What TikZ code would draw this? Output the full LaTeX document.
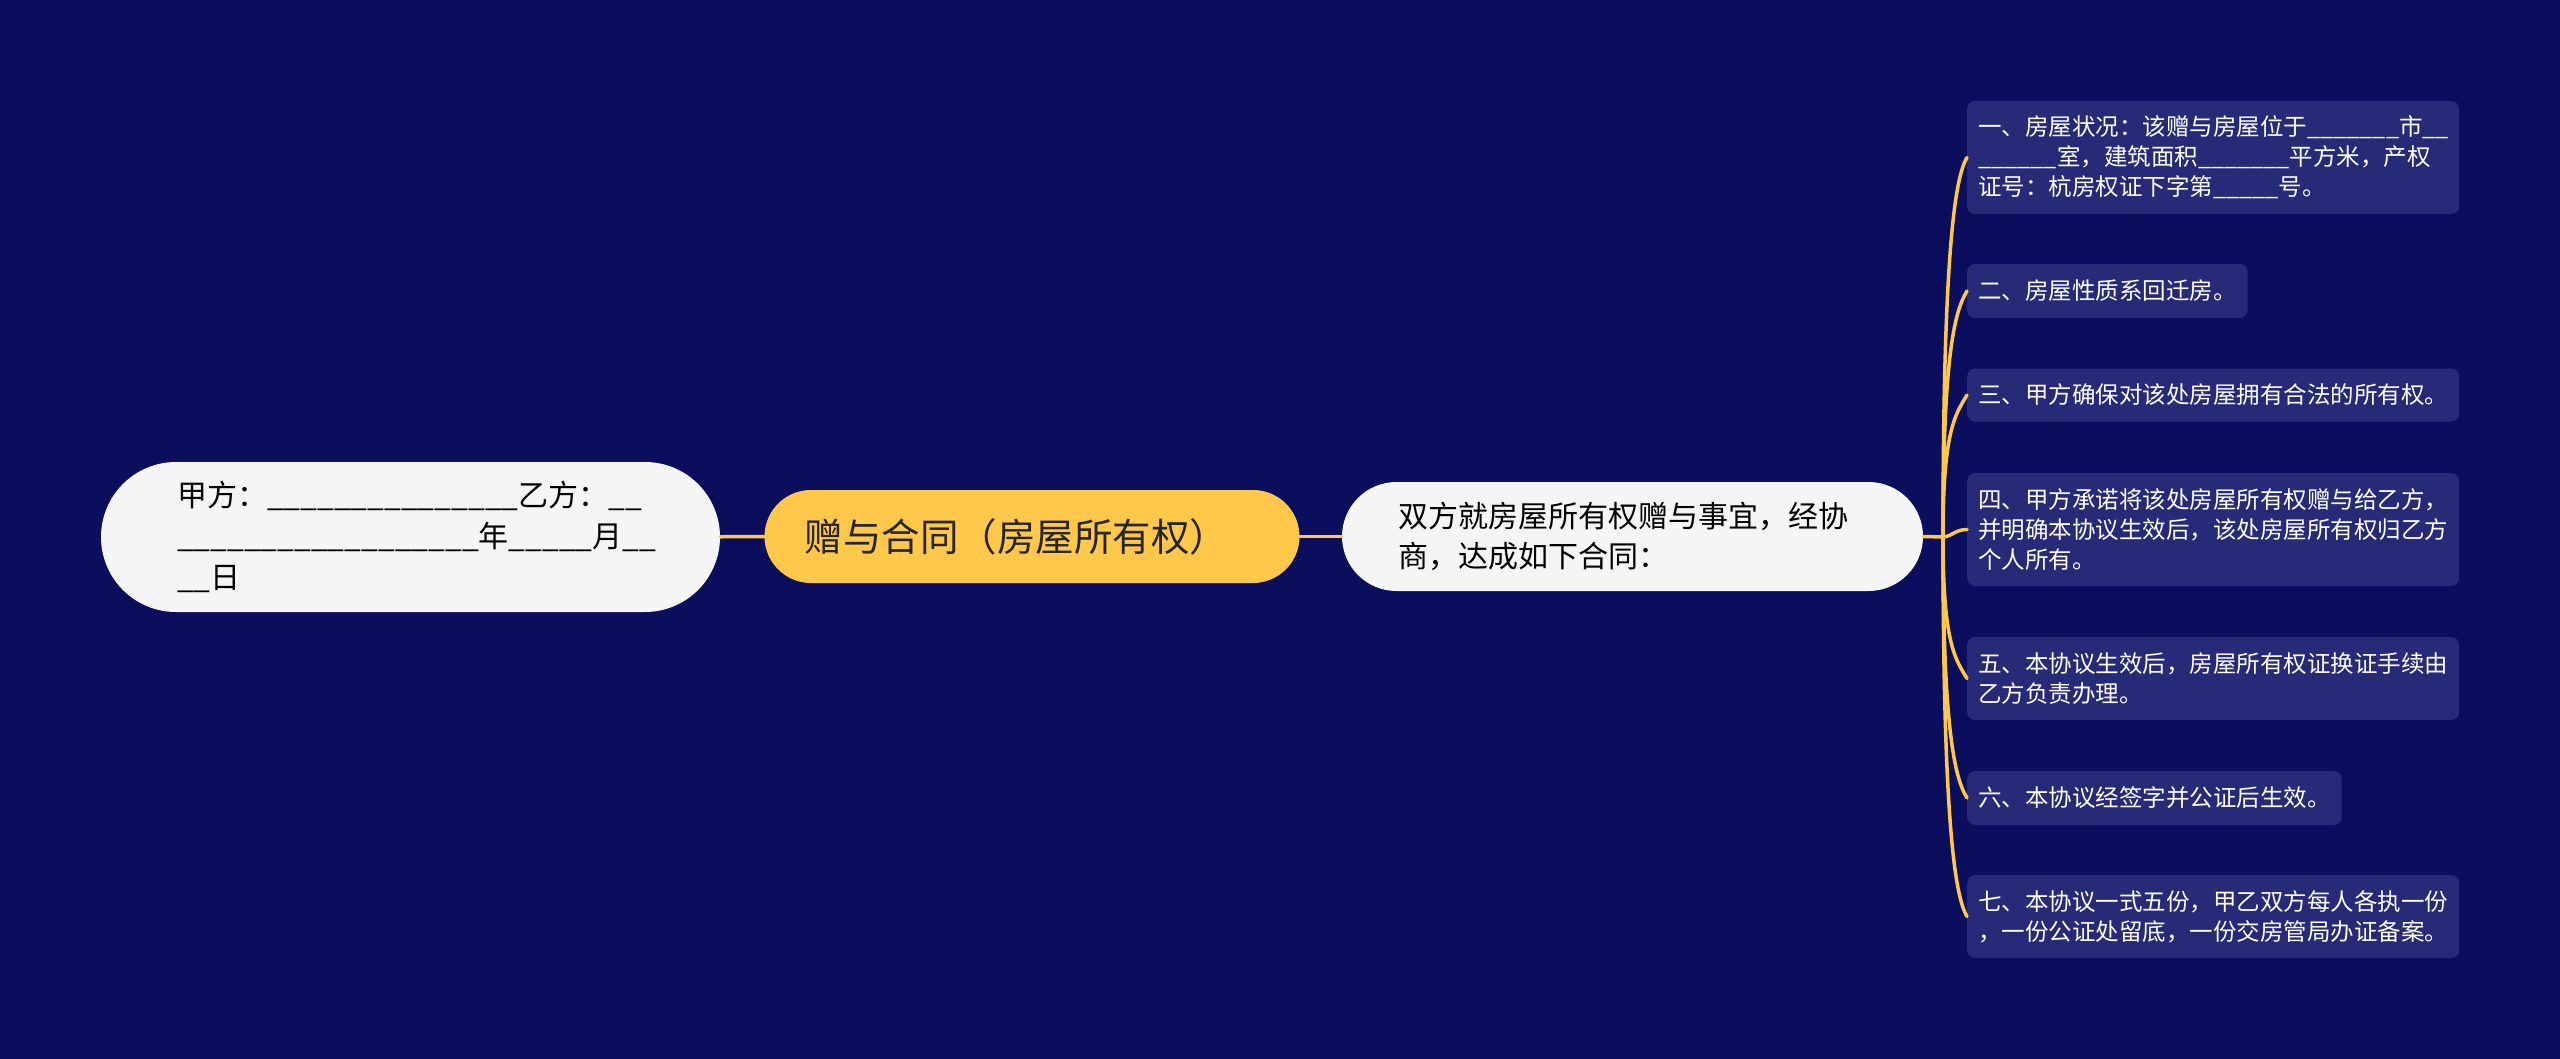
\documentclass[tikz,border=0pt]{standalone}
\usepackage{fontspec}
\setmainfont{Noto Sans CJK SC}
\definecolor{sfondo}{HTML}{0A0E5C}
\definecolor{fogliablu}{HTML}{272B77}
\definecolor{giallo}{HTML}{FFC84A}
\definecolor{chiaro}{HTML}{F5F5F5}
% tratto da compilare
\newcommand\riga[1]{\foreach\nn in {1,...,#1}{\_}}
\begin{document}
\begin{tikzpicture}[x=1pt,y=-1pt,line join=round,line cap=round,
    chiaro/.style={fill=chiaro,text=black,align=left,inner ysep=0pt},
    radice/.style={fill=giallo,text=black!85,align=left,inner ysep=0pt,
                   font=\fontsize{38.5}{46}\selectfont},
    foglia/.style={fill=fogliablu,text=white,align=left,anchor=west,
                   inner xsep=11,inner ysep=0pt,rounded corners=8,
                   font=\fontsize{23.5}{30}\selectfont},
    larga/.style={text width=470},
    ramo/.style={draw=giallo,line width=3.5}]

  \fill[sfondo] (0,0) rectangle (2560,1059);
  \useasboundingbox (0,0) rectangle (2560,1059);

  % ---- nodi centrali ---------------------------------------------------
  \node[chiaro,text width=467,inner xsep=76,minimum height=150,
        rounded corners=75,font=\fontsize{30}{41}\selectfont] (parti) at (410.5,537)
       {甲方：\riga{15}乙方：\riga{2}\\
        \riga{18}年\riga{5}月\riga{2}\\
        \riga{2}日};
  \node[radice,text width=455,inner xsep=40,minimum height=93,
        rounded corners=46.5] (titolo) at (1032,536.5)
       {赠与合同（房屋所有权）};
  \node[chiaro,text width=469,inner xsep=56,minimum height=109,
        rounded corners=54.5,font=\fontsize{30}{40}\selectfont] (intesa) at (1632.5,536.5)
       {双方就房屋所有权赠与事宜，经协\\商，达成如下合同：};

  \coordinate (T) at (1943,537);

  % ---- clausole --------------------------------------------------------
  \node[foglia,larga,minimum height=113] (c1) at (1967,157.5)
       {一、房屋状况：该赠与房屋位于\riga{7}市\riga{2}\\
        \riga{6}室，建筑面积\riga{7}平方米，产权\\
        证号：杭房权证下字第\riga{5}号。};
  \node[foglia,minimum height=54] (c2) at (1967,291)
       {二、房屋性质系回迁房。};
  \node[foglia,larga,minimum height=53] (c3) at (1967,395)
       {三、甲方确保对该处房屋拥有合法的所有权。};
  \node[foglia,larga,minimum height=113] (c4) at (1967,529.5)
       {四、甲方承诺将该处房屋所有权赠与给乙方，\\
        并明确本协议生效后，该处房屋所有权归乙方\\
        个人所有。};
  \node[foglia,larga,minimum height=83] (c5) at (1967,678.5)
       {五、本协议生效后，房屋所有权证换证手续由\\乙方负责办理。};
  \node[foglia,minimum height=54] (c6) at (1967,798)
       {六、本协议经签字并公证后生效。};
  \node[foglia,larga,minimum height=83] (c7) at (1967,916.5)
       {七、本协议一式五份，甲乙双方每人各执一份\\，一份公证处留底，一份交房管局办证备案。};

  % ---- collegamenti ----------------------------------------------------
  \draw[ramo] (parti) -- (titolo);
  \draw[ramo] (titolo) -- (intesa);
  \draw[ramo] (intesa.east) -- (T);

  \draw[ramo] (T) .. controls +(0,-285) and +(-12,20) .. (c1.west);
  \draw[ramo] (T) .. controls +(0,-185) and +(-12,20) .. (c2.west);
  \draw[ramo] (T) .. controls +(0,-106) and +(-12,20) .. (c3.west);
  \draw[ramo] (T) .. controls +(8,0) and +(-12,0) .. (c4.west);
  \draw[ramo] (T) .. controls +(0,106) and +(-12,-20) .. (c5.west);
  \draw[ramo] (T) .. controls +(0,196) and +(-12,-20) .. (c6.west);
  \draw[ramo] (T) .. controls +(0,285) and +(-12,-20) .. (c7.west);

\end{tikzpicture}
\end{document}
